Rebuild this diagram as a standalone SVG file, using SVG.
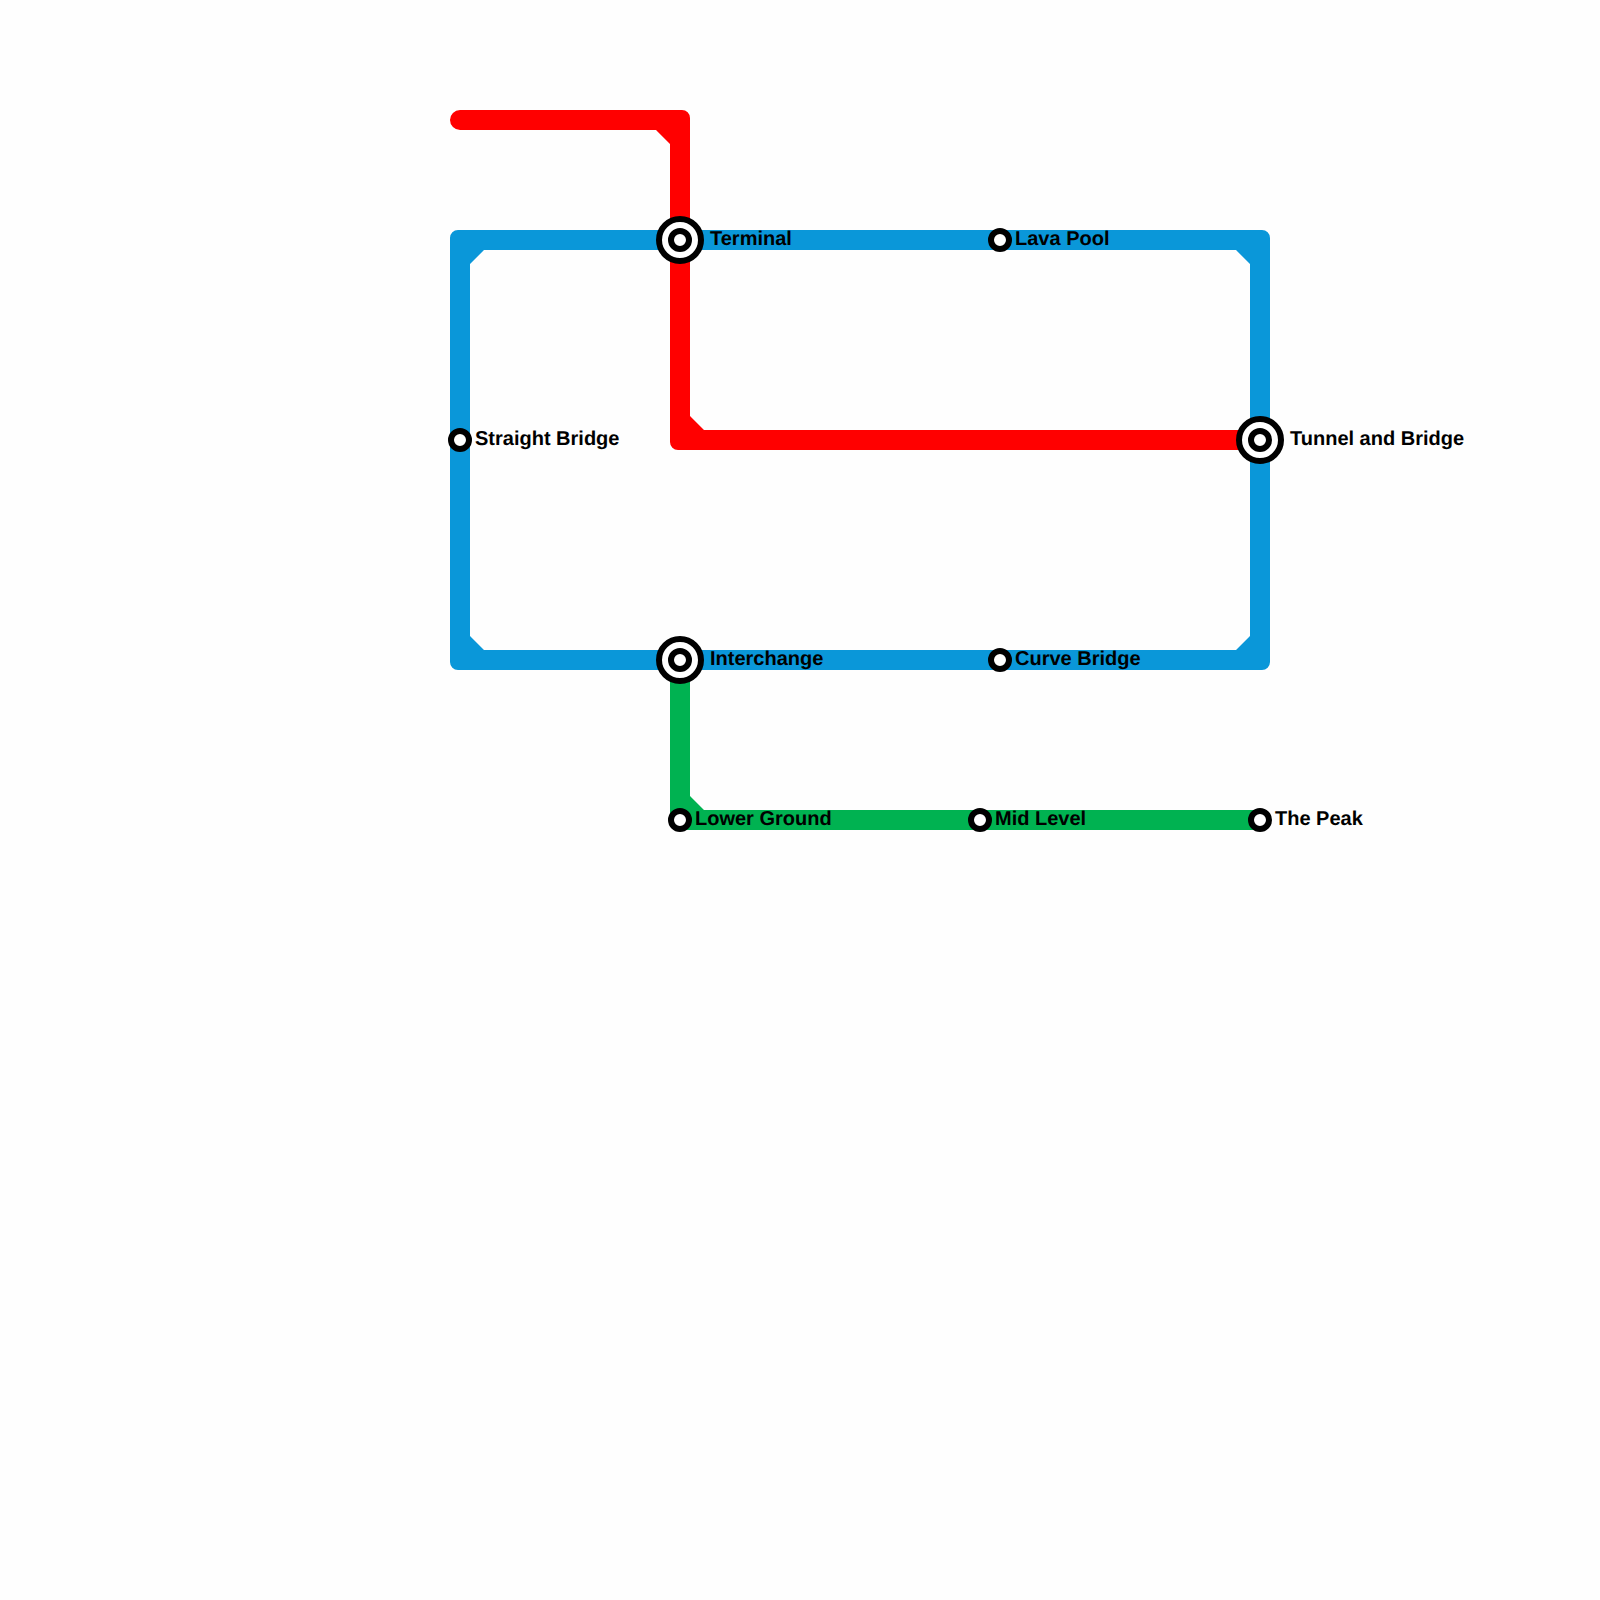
<svg xmlns="http://www.w3.org/2000/svg" width="1600" height="1600" viewBox="0 0 1600 1600">
<style>
.lbl{font-family:"Liberation Sans",Arial,sans-serif;font-weight:700;font-size:20px;fill:#000;text-rendering:geometricPrecision}
.hole{fill:#fff;stroke:#000;stroke-width:6}
.ring{fill:#fff;stroke:#000;stroke-width:6}
</style>
<rect width="1600" height="1600" fill="#fefefe"/>
<g id="connectors">
<path id="line-blue" fill="#0a97d9" fill-rule="evenodd" d="M458 230H1262A8 8 0 0 1 1270 238V662A8 8 0 0 1 1262 670H458A8 8 0 0 1 450 662V238A8 8 0 0 1 458 230ZM484 250L470 264V636L484 650H1236L1250 636V264L1236 250Z"/>
<path id="line-red" fill="#ff0000" d="M460 110H682A8 8 0 0 1 690 118V416L704 430H1260V450H678A8 8 0 0 1 670 442V144L656 130H460A10 10 0 0 1 460 110Z"/>
<path id="line-green" fill="#00b251" d="M670 670H690V796L704 810H1260V830H678A8 8 0 0 1 670 822Z"/>
</g>
<g id="station-terminal"><circle class="ring" cx="680" cy="240" r="21"/><circle class="hole" cx="680" cy="240" r="9"/><text class="lbl" x="710" y="245">Terminal</text></g>
<g id="station-lava-pool"><circle class="hole" cx="1000" cy="240" r="9"/><text class="lbl" x="1015" y="245">Lava Pool</text></g>
<g id="station-straight-bridge"><circle class="hole" cx="460" cy="440" r="9"/><text class="lbl" x="475" y="445">Straight Bridge</text></g>
<g id="station-tunnel-and-bridge"><circle class="ring" cx="1260" cy="440" r="21"/><circle class="hole" cx="1260" cy="440" r="9"/><text class="lbl" x="1290" y="445">Tunnel and Bridge</text></g>
<g id="station-interchange"><circle class="ring" cx="680" cy="660" r="21"/><circle class="hole" cx="680" cy="660" r="9"/><text class="lbl" x="710" y="665">Interchange</text></g>
<g id="station-curve-bridge"><circle class="hole" cx="1000" cy="660" r="9"/><text class="lbl" x="1015" y="665">Curve Bridge</text></g>
<g id="station-lower-ground"><circle class="hole" cx="680" cy="820" r="9"/><text class="lbl" x="695" y="825">Lower Ground</text></g>
<g id="station-mid-level"><circle class="hole" cx="980" cy="820" r="9"/><text class="lbl" x="995" y="825">Mid Level</text></g>
<g id="station-the-peak"><circle class="hole" cx="1260" cy="820" r="9"/><text class="lbl" x="1275" y="825">The Peak</text></g>
</svg>
